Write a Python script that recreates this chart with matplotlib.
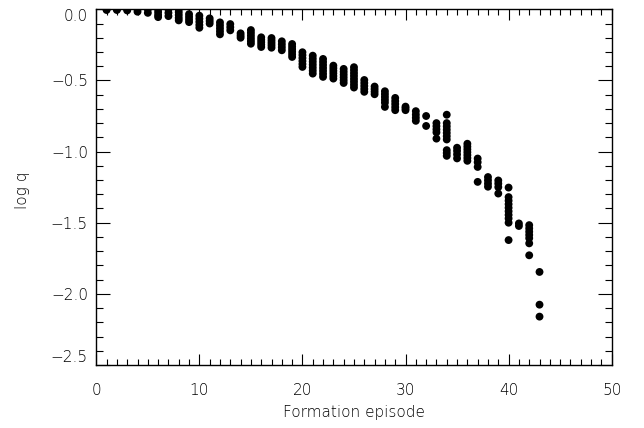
import matplotlib
matplotlib.use("Agg")

import matplotlib.pyplot as plt
from matplotlib.ticker import MultipleLocator

# ── data: log q per formation episode (several galaxies per episode) ─────────
episode = (
    [1] * 2 + [2] * 2 + [3] * 2 + [4] * 2 + [5] * 2 + [6] * 4 + [7] * 3 + [8] * 5
    + [9] * 4 + [10] * 5 + [11] * 3 + [12] * 5 + [13] * 3 + [14] * 3 + [15] * 6
    + [16] * 5 + [17] * 5 + [18] * 4 + [19] * 6 + [20] * 6 + [21] * 7 + [22] * 7
    + [23] * 6 + [24] * 6 + [25] * 8 + [26] * 5 + [27] * 4 + [28] * 6 + [29] * 5
    + [30] * 3 + [31] * 4 + [32] * 2 + [33] * 5 + [34] * 10 + [35] * 4 + [36] * 7
    + [37] * 4 + [38] * 4 + [39] * 4 + [40] * 10 + [41] * 2 + [42] * 7 + [43] * 3
)

log_q = [
    0.000, -0.005,
    0.000, -0.005,
    0.000, -0.008,
    0.000, -0.017,
    0.000, -0.025,
    0.000, -0.020, -0.040, -0.055,
    0.000, -0.025, -0.048,
    0.000, -0.020, -0.040, -0.060, -0.078,
    -0.034, -0.053, -0.072, -0.090,
    -0.045, -0.066, -0.088, -0.110, -0.130,
    -0.064, -0.082, -0.100,
    -0.092, -0.113, -0.134, -0.155, -0.176,
    -0.104, -0.126, -0.148,
    -0.169, -0.185, -0.200,
    -0.146, -0.165, -0.185, -0.205, -0.224, -0.242,
    -0.197, -0.214, -0.231, -0.248, -0.265,
    -0.202, -0.219, -0.236, -0.253, -0.270,
    -0.225, -0.246, -0.267, -0.288,
    -0.244, -0.262, -0.280, -0.298, -0.317, -0.335,
    -0.302, -0.322, -0.343, -0.364, -0.385, -0.405,
    -0.326, -0.347, -0.368, -0.389, -0.410, -0.431, -0.452,
    -0.349, -0.370, -0.391, -0.412, -0.433, -0.454, -0.475,
    -0.396, -0.414, -0.432, -0.450, -0.469, -0.487,
    -0.419, -0.439, -0.459, -0.479, -0.499, -0.518,
    -0.407, -0.427, -0.448, -0.468, -0.489, -0.509, -0.530, -0.550,
    -0.497, -0.518, -0.539, -0.560, -0.580,
    -0.543, -0.561, -0.579, -0.597,
    -0.576, -0.596, -0.616, -0.636, -0.656, -0.686,
    -0.623, -0.645, -0.666, -0.688, -0.709,
    -0.684, -0.696, -0.709,
    -0.716, -0.740, -0.762, -0.784,
    -0.750, -0.820,
    -0.800, -0.822, -0.844, -0.865, -0.909,
    -0.741, -0.800, -0.823, -0.846, -0.869, -0.892, -0.915, -0.990, -1.010, -1.030,
    -0.973, -0.995, -1.020, -1.048,
    -0.945, -0.965, -0.985, -1.005, -1.025, -1.045, -1.065,
    -1.049, -1.075, -1.108, -1.213,
    -1.179, -1.202, -1.225, -1.247,
    -1.203, -1.225, -1.250, -1.295,
    -1.253, -1.320, -1.345, -1.370, -1.395, -1.420, -1.445, -1.470, -1.500, -1.622,
    -1.505, -1.523,
    -1.517, -1.540, -1.563, -1.586, -1.609, -1.645, -1.729,
    -1.846, -2.076, -2.160,
]

x_ticks = [0, 10, 20, 30, 40, 50]
y_ticks = [-2.5, -2.0, -1.5, -1.0, -0.5, 0.0]

# ── figure ─────────────────────────────────────────────────────────────────
plt.rcParams["font.family"] = ["DejaVu Sans"]
fig = plt.figure(figsize=(6.44, 4.28), dpi=100)
ax = fig.add_axes([0.1495, 0.1472, 0.8003, 0.8311])

ax.scatter(episode, log_q, s=32, color="black", edgecolors="none")

ax.set_xlim(0, 50)
ax.set_ylim(-2.5, 0.0)
ax.set_xticks(x_ticks)
ax.set_yticks(y_ticks)
ax.set_yticklabels([f"{v:.1f}".replace("-", "\u2212") for v in y_ticks])
ax.xaxis.set_minor_locator(MultipleLocator(1))
ax.yaxis.set_minor_locator(MultipleLocator(0.1))

ax.tick_params(which="both", direction="in", top=True, right=True,
               colors="black", labelsize=11, width=0.8)
ax.tick_params(axis="y", which="major", length=10, pad=6)
ax.tick_params(axis="y", which="minor", length=5)
ax.tick_params(axis="x", which="major", length=8, pad=13)
ax.tick_params(axis="x", which="minor", length=4)
for lbl in ax.get_yticklabels() + ax.get_xticklabels():
    lbl.set_fontweight("light")

# end labels sit inside the axis range
ylabels = ax.get_yticklabels()
ylabels[0].set_va("bottom")
ylabels[-1].set_va("top")

for sp in ax.spines.values():
    sp.set_linewidth(1.0)

ax.set_xlabel("Formation episode", fontsize=11, fontweight="light")
ax.set_ylabel("log q", fontsize=11, fontweight="light")
ax.xaxis.set_label_coords(0.5, -0.112)
ax.yaxis.set_label_coords(-0.128, 0.49)

plt.savefig("out.png", dpi=100)
plt.close()
